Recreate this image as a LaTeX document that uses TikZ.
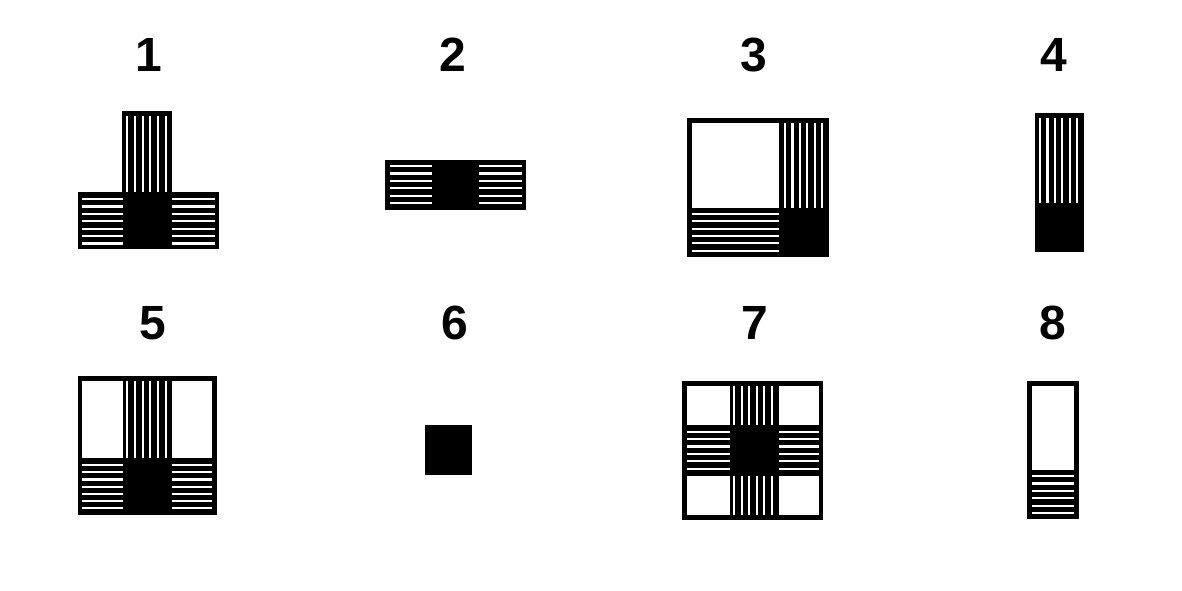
\documentclass[tikz,border=0pt]{standalone}
\usepackage{fontspec}
\setmainfont{Liberation Sans}
\begin{document}
\begin{tikzpicture}[x=1pt,y=-1pt,
  wl/.style={draw=white,line width=2.2pt},
  lbl/.style={font=\bfseries\fontsize{48}{48}\selectfont, anchor=base, inner sep=0pt}]
\useasboundingbox (0,0) rectangle (1182,590);
\fill[white] (0,0) rectangle (1182,590);
% labels
\node[lbl] (l1) at (149,71) {1};
\node[lbl] (l2) at (453,71.5) {2};
\node[lbl] (l3) at (753.7,71) {3};
\node[lbl] (l4) at (1054,71) {4};
\node[lbl] (l5) at (153,339) {5};
\node[lbl] (l6) at (455,339) {6};
\node[lbl] (l7) at (755,339) {7};
\node[lbl] (l8) at (1053,339) {8};
% figure 1
\fill (78,192) rectangle (219,249);
\fill (122,111) rectangle (172,192);
\foreach \y in {199,206.4,213.8,221.2,228.6,236,243.4}{
  \draw[wl] (82,\y) -- (122.5,\y);
  \draw[wl] (172,\y) -- (214.5,\y);}
\foreach \x in {127.3,135,142.7,150.3,158,165.7}
  \draw[wl] (\x,116) -- (\x,192);
% figure 2
\fill (385,160) rectangle (526,210);
\foreach \y in {166,173.4,180.8,188.2,195.6,203}{
  \draw[wl] (390,\y) -- (432.3,\y);
  \draw[wl] (479.3,\y) -- (521.7,\y);}
% figure 3
\fill (687.3,118.3) rectangle (828.7,257.3);
\fill[white] (692.3,123.3) rectangle (779,207.5);
\foreach \x in {785,792.4,799.8,807.2,814.6,822}
  \draw[wl] (\x,123.3) -- (\x,207.5);
\foreach \y in {214,221.3,228.6,236,243.3,250.6}
  \draw[wl] (692.3,\y) -- (779,\y);
% figure 4
\fill (1034.7,113.3) rectangle (1084,252.3);
\foreach \x in {1040,1047.4,1054.8,1062.2,1069.6,1077}
  \draw[wl] (\x,118.3) -- (\x,202.7);
% figure 5
\fill (77.7,375.7) rectangle (216.7,515);
\fill[white] (82.3,380.7) rectangle (122.7,457.7);
\fill[white] (171.7,380.7) rectangle (212.3,457.7);
\foreach \x in {127.3,135,142.7,150.3,158,165.7}
  \draw[wl] (\x,380.7) -- (\x,457.7);
\foreach \y in {465,472.2,479.4,486.6,493.8,501,508.2}{
  \draw[wl] (82.3,\y) -- (122.7,\y);
  \draw[wl] (171.7,\y) -- (212.3,\y);}
% figure 6
\fill (424.7,425) rectangle (472,475.3);
% figure 7
\fill (682.3,381) rectangle (823.3,520);
\fill[white] (687.3,386) rectangle (730,425);
\fill[white] (779.3,386) rectangle (819,425);
\fill[white] (687.3,475.7) rectangle (730,514.7);
\fill[white] (779.3,475.7) rectangle (819,514.7);
\foreach \x in {734.3,741.7,749.3,756.7,764.3,771.7}{
  \draw[wl] (\x,386) -- (\x,425);
  \draw[wl] (\x,475.7) -- (\x,514.7);}
\foreach \y in {431.7,439,446.5,454,461.3,468.8}{
  \draw[wl] (687.3,\y) -- (730,\y);
  \draw[wl] (779.3,\y) -- (819,\y);}
% figure 8
\fill (1027.3,381) rectangle (1079,519);
\fill[white] (1032.3,385.7) rectangle (1074.3,470);
\foreach \y in {476,483.4,490.8,498.2,505.6,513.2}
  \draw[wl] (1032.3,\y) -- (1074.3,\y);
\end{tikzpicture}
\end{document}
